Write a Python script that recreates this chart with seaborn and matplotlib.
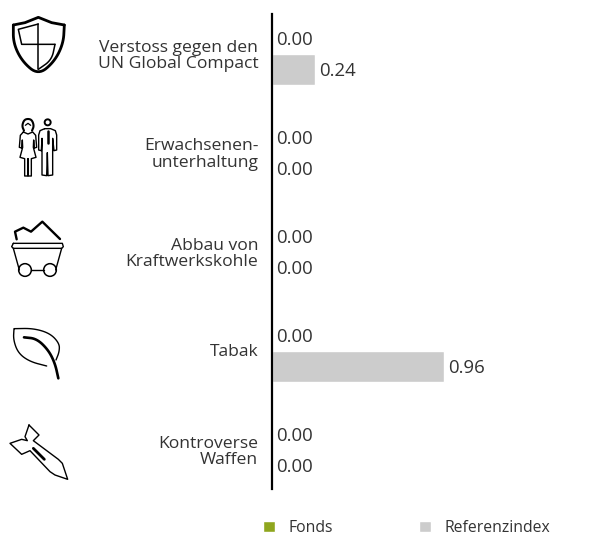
import numpy as np
import pandas as pd
import matplotlib
matplotlib.use("Agg")
import matplotlib.pyplot as plt
from matplotlib.patches import Circle
import seaborn as sns

categories = ["Verstoss gegen den\nUN Global Compact", "Erwachsenen-\nunterhaltung",
              "Abbau von\nKraftwerkskohle", "Tabak", "Kontroverse\nWaffen"]
fonds = [0.00, 0.00, 0.00, 0.00, 0.00]
referenz = [0.24, 0.00, 0.00, 0.96, 0.00]
series = ["Fonds", "Referenzindex"]
colors = ["#8FA61E", "#CCCCCC"]

sns.set_theme(style="white")
plt.rcParams["font.family"] = ["Open Sans", "DejaVu Sans"]
TXT = "#333333"

df = pd.DataFrame({"cat": categories * 2,
                   "serie": [series[0]] * 5 + [series[1]] * 5,
                   "wert": fonds + referenz})

W, H = 616, 536
fig = plt.figure(figsize=(W / 100, H / 100), dpi=100)
top, bottom, left, right = 4.0, 499.0, 271.5, 600
ax = fig.add_axes([left / W, 1 - bottom / H, (right - left) / W, (bottom - top) / H])
sns.barplot(data=df, x="wert", y="cat", hue="serie", palette=colors, width=0.63,
            saturation=1, ax=ax, legend=True)
ax.set_xlim(0, (right - left) / 180)
ax.set_ylim(4.5, -0.5)
ax.set_xlabel(""); ax.set_ylabel("")
ax.set_xticks([])
for s in ["top", "right", "bottom"]:
    ax.spines[s].set_visible(False)
ax.spines["left"].set_color("black")
ax.spines["left"].set_linewidth(1.6)
ax.spines["left"].set_bounds(-0.404, 4.394)
ax.tick_params(axis="y", length=0, pad=9.5, labelsize=12.6, labelcolor=TXT)
for t in ax.get_yticklabels():
    t.set_linespacing(1.03)
for c in ax.containers:
    for lab in ax.bar_label(c, fmt="%.2f", padding=3, fontsize=13.4, color=TXT):
        lab.xyann = (lab.xyann[0], -1.5)

h, l = ax.get_legend_handles_labels()
ax.get_legend().remove()
leg = fig.legend(h, l, ncols=2, frameon=False, fontsize=11.3, handlelength=0.75, handleheight=0.75,
                 handletextpad=0.85, columnspacing=5.5, loc="lower left",
                 bbox_to_anchor=(249 / W, -0.026), labelcolor=TXT)

# pictograms in pixel space
ov = fig.add_axes([0, 0, 1, 1], zorder=5)
ov.set_xlim(0, W); ov.set_ylim(H, 0); ov.axis("off"); ov.patch.set_alpha(0)

def smooth(p, n=3):
    p = np.asarray(p, float)
    for _ in range(n):
        q = np.empty((2 * (len(p) - 1), 2))
        q[0::2] = 0.75 * p[:-1] + 0.25 * p[1:]
        q[1::2] = 0.25 * p[:-1] + 0.75 * p[1:]
        p = np.vstack([p[0], q, p[-1]])
    return p

def line(pts, ox, oy, lw=1.0, curved=False):
    p = np.asarray(pts, float)
    if curved:
        p = smooth(p)
    ov.plot(ox + p[:, 0] / 3, oy + p[:, 1] / 3, color="black", lw=lw,
            solid_joinstyle="round", solid_capstyle="round")

def circ(x, y, r, ox, oy, lw=1.0):
    ov.add_patch(Circle((ox + x / 3, oy + y / 3), r / 3, fill=False, ec="black", lw=lw))

# shield
o = (5, 10)
line([(25, 45), (60, 38), (100, 22), (140, 38), (178, 45)], *o, lw=2.0)
line([(25, 45), (25, 100), (52, 155), (100, 195), (148, 155), (175, 100), (178, 45)], *o, lw=2.0, curved=True)
line([(100, 42), (40, 58), (50, 103), (150, 103)], *o, lw=1.1)
line([(100, 42), (100, 178)], *o, lw=1.1)
line([(150, 103), (140, 150), (100, 178)], *o, lw=1.1, curved=True)

# people
o = (10, 110)
line([(40, 66), (31, 76), (28, 112), (35, 114), (37, 90), (38, 112), (30, 142), (44, 146), (44, 198), (53, 198),
      (53, 146), (55, 146), (55, 198), (64, 198), (64, 146), (78, 142), (70, 112), (71, 90), (73, 114), (80, 112),
      (77, 76), (68, 66), (54, 72), (40, 66)], *o, lw=1.0)
line([(42, 62), (36, 48), (42, 30), (54, 26), (66, 30), (72, 48), (66, 62)], *o, lw=1.5, curved=True)
line([(46, 46), (54, 40), (62, 46)], *o, lw=0.9)
circ(113, 37, 9, *o, lw=1.4)
line([(104, 56), (90, 62), (86, 75), (86, 120), (94, 122), (96, 85), (96, 195), (110, 197), (112, 128), (114, 197),
      (128, 195), (128, 85), (132, 122), (140, 120), (140, 75), (136, 62), (122, 56), (104, 56)], *o, lw=1.0)
line([(113, 62), (113, 100)], *o, lw=1.8)

# coal cart
o = (5, 215)
line([(35, 73), (30, 50), (55, 38), (78, 50), (112, 20), (165, 72)], *o, lw=1.7)
line([(25, 85), (172, 85), (175, 95), (170, 100), (25, 100), (20, 95), (25, 85)], *o, lw=1.0)
line([(25, 100), (43, 165)], *o, lw=1.0)
line([(170, 100), (152, 165)], *o, lw=1.0)
circ(60, 165, 19, *o, lw=1.1)
circ(135, 165, 19, *o, lw=1.1)
line([(79, 165), (116, 165)], *o, lw=1.0)

# leaf
o = (0, 290)
line([(140, 228), (90, 215), (55, 190), (40, 150), (42, 116), (42, 116), (100, 115), (150, 130), (178, 160), (178, 185), (168, 210)],
     *o, lw=1.0, curved=True)
line([(72, 142), (110, 146), (145, 180), (165, 220), (175, 265)], *o, lw=1.9, curved=True)

# missile
o = (5, 420)
line([(72, 15), (60, 50), (67, 62), (50, 58), (15, 70), (50, 103), (75, 92), (135, 155), (150, 165), (188, 178),
      (172, 130), (160, 118), (85, 62), (102, 45), (72, 15)], *o, lw=1.0)
line([(85, 85), (118, 118)], *o, lw=2.0)

fig.savefig("out.png", dpi=100)
